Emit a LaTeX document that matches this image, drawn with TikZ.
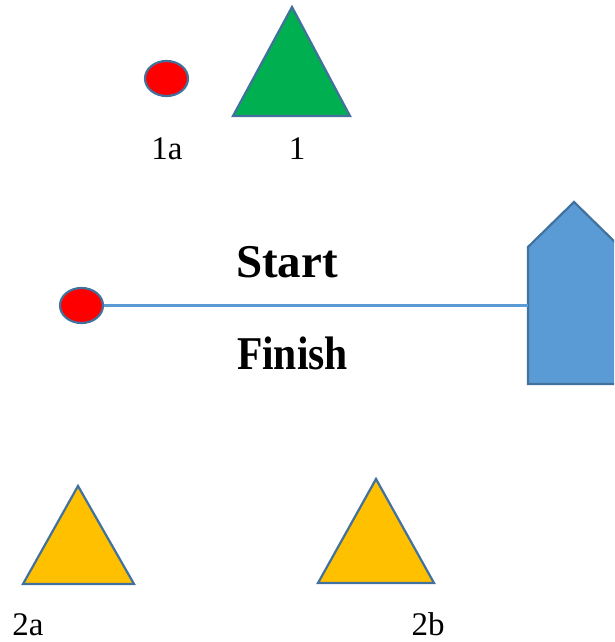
\documentclass[tikz,border=0pt]{standalone}
\usepackage{fontspec}
\setmainfont{Liberation Serif}
\usetikzlibrary{shapes.geometric}
\definecolor{dotred}{HTML}{FF0000}
\definecolor{flaggreen}{HTML}{00B050}
\definecolor{coneyellow}{HTML}{FFC000}
\definecolor{houseblue}{HTML}{5B9BD5}
\definecolor{edgeblue}{HTML}{41719C}
\tikzset{
  dot/.style={ellipse, draw=edgeblue, line width=2.2pt, fill=dotred,
    minimum width=43pt, minimum height=35pt, inner sep=0pt},
  shape edge/.style={draw=edgeblue, line width=2.2pt, line join=miter},
  lbl/.style={font=\fontsize{33}{38}\selectfont, anchor=base, inner sep=0pt},
  title/.style={font=\fontsize{47}{54}\selectfont\bfseries, anchor=base, inner sep=0pt}
}
\begin{document}
\begin{tikzpicture}[x=1pt, y=-1pt]
		\useasboundingbox (0,0) rectangle (614,642);
		% top row
		\node [dot] (dot1a) at (166.5,78.5) {};
		\draw [shape edge, fill=flaggreen] (292,7) -- (350,116) -- (233,116) -- cycle;
		\node [lbl] (lbl1a) at (167,159) {1a};
		\node [lbl] (lbl1) at (297,159) {1};
		% start / finish line
		\node [dot] (dotline) at (81.5,305.5) {};
		\begin{scope}
		\clip (0,0) rectangle (614,642);
		\draw [shape edge, fill=houseblue] (528,247) -- (574,202) -- (620,247) -- (620,384) -- (528,384) -- cycle;
		\end{scope}
		\coordinate (housew) at (528,305.5);
		\draw [draw=houseblue, line width=2.4pt] (dotline) -- (housew);
		\node [title] (start) at (287,277) {Start};
		\node [title] (finish) at (292.5,369) {\scalebox{0.885}[1]{Finish}};
		% bottom row
		\draw [shape edge, fill=coneyellow] (78,486) -- (134,584) -- (23,584) -- cycle;
		\draw [shape edge, fill=coneyellow] (376,479) -- (434,583) -- (318,583) -- cycle;
		\node [lbl] (lbl2a) at (28,635) {2a};
		\node [lbl] (lbl2b) at (428,635) {2b};
\end{tikzpicture}
\end{document}
